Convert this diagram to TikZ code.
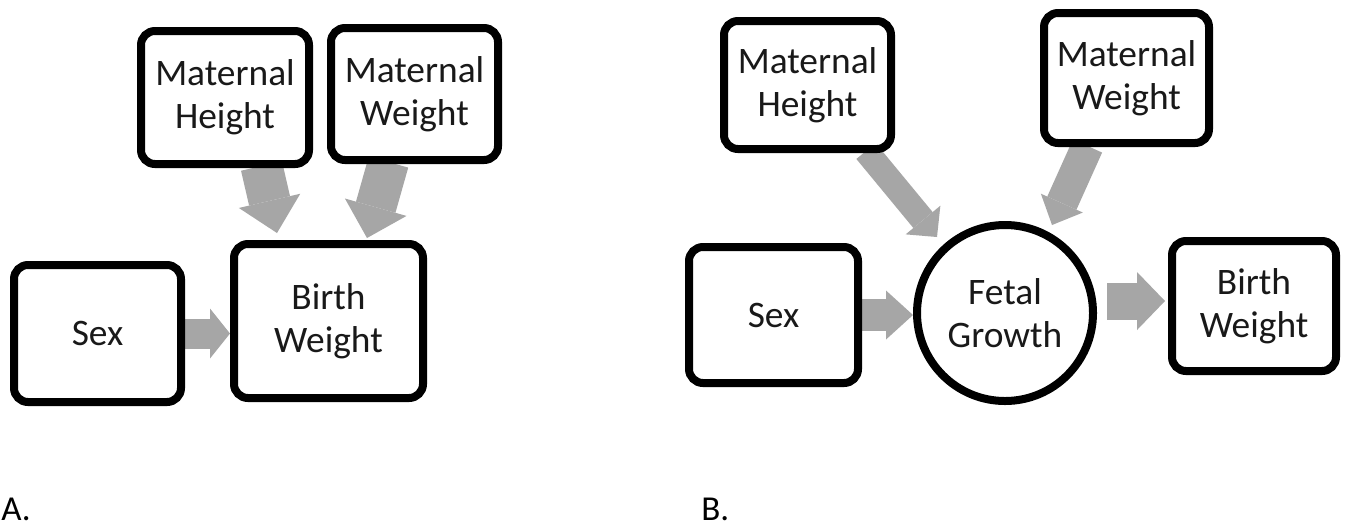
\documentclass[tikz,border=0pt]{standalone}
\usepackage{fontspec}
\setmainfont{Carlito}
\usetikzlibrary{arrows.meta,shadows,backgrounds}
\definecolor{arrgray}{RGB}{166,166,166}
\definecolor{txt}{RGB}{25,25,25}
\begin{document}
\begin{tikzpicture}[x=0.5pt,y=-0.5pt,
  box/.style={draw=black, line width=4pt, rounded corners=7pt, fill=white, inner sep=0pt,
    align=center, text=txt, font=\fontsize{18.7}{21.5}\selectfont,
    drop shadow={shadow xshift=1.2pt, shadow yshift=-1.5pt, opacity=0.35}},
  circ/.style={circle, draw=black, line width=4pt, fill=white, inner sep=0pt,
    align=center, text=txt, font=\fontsize{18.7}{21.5}\selectfont, minimum size=88pt},
  panel/.style={font=\fontsize{17.5}{20}\selectfont, anchor=base west, inner sep=0pt},
  barrow/.style n args={3}{draw=arrgray, line width=#1,
    -{Triangle[length=#3, width=#2, line width=0pt]}}
]
\path[use as bounding box] (0,0) rectangle (1347,527);

% Panel A
\node[box, minimum width=84pt, minimum height=66.5pt] (mhA) at (225,97.5) {Maternal\\Height};
\node[box, minimum width=83.5pt, minimum height=66pt] (mwA) at (414.5,94) {Maternal\\Weight};
\node[box, minimum width=83.5pt, minimum height=68.5pt] (sexA) at (97.5,333.5) {Sex};
\node[box, minimum width=94.5pt, minimum height=77pt] (bwA) at (328.5,321) {Birth\\Weight};
\node[panel] (labA) at (1,520) {A.};

% Panel B
\node[box, minimum width=83.5pt, minimum height=64pt] (mhB) at (807.5,85) {Maternal\\Height};
\node[box, minimum width=82.5pt, minimum height=65pt] (mwB) at (1126.5,78) {Maternal\\Weight};
\node[box, minimum width=84.5pt, minimum height=68pt] (sexB) at (773.5,315) {Sex};
\node[circ] (fg) at (1005,313) {Fetal\\Growth};
\node[box, minimum width=82pt, minimum height=65pt] (bwB) at (1254,306) {Birth\\Weight};
\node[panel] (labB) at (701,520) {B.};

% arrow end points
\coordinate (a1s) at (261.5,166);
\coordinate (a1t) at (277,233);
\coordinate (a2s) at (388.5,162);
\coordinate (a2t) at (367,238);
\coordinate (b1s) at (866,151);
\coordinate (b1t) at (937,237);
\coordinate (b2s) at (1087.5,146);
\coordinate (b2t) at (1052,225);
\coordinate (b4s) at (1107,301);
\coordinate (b4t) at (1165,301);

\begin{scope}[on background layer]
\fill[white] (0,0) rectangle (1347,527);
\draw[barrow={21pt}{31.5pt}{16.5pt}] (a1s) -- (a1t);
\draw[barrow={20.5pt}{32pt}{16pt}] (a2s) -- (a2t);
\draw[barrow={15pt}{25pt}{10pt}] (sexA.east) -- (sexA.east -| bwA.west);
\draw[barrow={12.5pt}{22.5pt}{11pt}] (b1s) -- (b1t);
\draw[barrow={16pt}{23pt}{12pt}] (b2s) -- (b2t);
\draw[barrow={16pt}{24.5pt}{13.5pt}] (sexB.east) -- (sexB.east -| fg.west);
\draw[barrow={18.5pt}{29pt}{14pt}] (b4s) -- (b4t);
\end{scope}
\end{tikzpicture}
\end{document}
